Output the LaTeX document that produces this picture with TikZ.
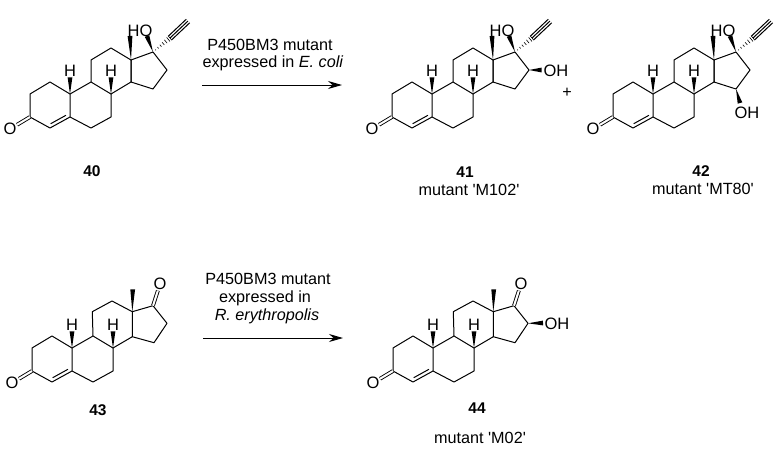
\documentclass[tikz,border=0pt]{standalone}
\usepackage{fontspec}
\setmainfont{Liberation Sans}
\usetikzlibrary{calc, positioning, arrows.meta}
\tikzset{
		>=Stealth,
		bond/.style={line width=1pt, black},
		dbl/.style={line width=0.9pt, double, double distance=2pt, black},
		atom/.style={font=\fontsize{16.5}{16.5}\selectfont, inner sep=0.5pt},
		txt/.style={font=\fontsize{16.2}{16.2}\selectfont, inner sep=0pt},
		num/.style={font=\fontsize{15.5}{15.5}\selectfont\bfseries, inner sep=0pt}
	}
% narrow at the first point, wide at the second
\newcommand{\wedgebond}[2]{\fill ($(#2)!2.4pt!90:(#1)$) -- ($(#2)!2.4pt!-90:(#1)$) -- (#1) -- cycle;}
\tikzset{
	% rings A and B, with the two H
	abrings/.pic={
		\coordinate (-c1) at (50,82);
		\coordinate (-c2) at (30,94);
		\coordinate (-c3) at (30,117);
		\coordinate (-c4) at (50,128);
		\coordinate (-c5) at (70,117);
		\coordinate (-c6) at (91,128);
		\coordinate (-c7) at (111,117);
		\coordinate (-c8) at (111,94);
		\coordinate (-c9) at (91,82);
		\coordinate (-c10) at (70,94);
		\node[atom] (-o3) at (10,129) {O};
		\node[atom] (-h8) at (111,71) {H};
		\node[atom] (-h10) at (70,71) {H};
		\draw[bond, line join=round] (-c10) -- (-c1) -- (-c2) -- (-c3) -- (-c4) -- (-c5) -- (-c6) -- (-c7) -- (-c8) -- (-c9) -- (-c10) -- (-c5);
		\draw[bond] ($(-c4) + (0.7,-4.3)$) -- ($(-c5) + (-4.1,-1.7)$);
		\draw[dbl] (-c3) -- (-o3);
		\wedgebond{-c8}{-h8.south}
		\wedgebond{-c10}{-h10.south}
	},
	% rings C and D, 17-OH and ethynyl
	ethynyl/.pic={
		\coordinate (-c11) at (91,60);
		\coordinate (-c12) at (111,48);
		\coordinate (-c13) at (131,60);
		\coordinate (-c14) at (131,82);
		\coordinate (-c15) at (153,89);
		\coordinate (-c16) at (167,70);
		\coordinate (-c17) at (153,52);
		\coordinate (-c18) at (130,36);
		\coordinate (-oh) at (147,36);
		\coordinate (-c20) at (170,38);
		\coordinate (-c21) at (188,21);
		\coordinate (-c8) at (111,94);
		\coordinate (-c9) at (91,82);
		\node[atom] (-ho) at (140,31) {HO};
		\draw[bond, line join=round] (-c9) -- (-c11) -- (-c12) -- (-c13) -- (-c14) -- (-c8);
		\draw[bond, line join=round] (-c14) -- (-c15) -- (-c16) -- (-c17) -- (-c13) -- (-c14);
		\wedgebond{-c13}{-c18}
		\wedgebond{-c17}{-oh}
		\foreach \t in {0.15,0.3,0.45,0.6,0.75,0.9,1}
			\draw[line width=0.6pt] ($(-c17)!\t!(-c20) + \t*(1.8,2.2)$) -- ($(-c17)!\t!(-c20) - \t*(1.8,2.2)$);
		\draw[bond] (-c20) -- (-c21);
		\draw[bond] ($(-c20) + (1.7,1.8)$) -- ($(-c21) + (1.7,1.8)$);
		\draw[bond] ($(-c20) - (1.7,1.8)$) -- ($(-c21) - (1.7,1.8)$);
	},
	% rings C and D, 17-ketone
	ketone/.pic={
		\coordinate (-c11) at (90.3,57.7);
		\coordinate (-c12) at (110,47);
		\coordinate (-c13) at (130.3,57.7);
		\coordinate (-c14) at (130.3,82.7);
		\coordinate (-c15) at (152,88.7);
		\coordinate (-c16) at (165,69.3);
		\coordinate (-c17) at (151,51.7);
		\coordinate (-c18) at (130.7,35.3);
		\coordinate (-c8) at (111,94);
		\coordinate (-c9) at (91,82);
		\node[atom] (-o17) at (158,30) {O};
		\draw[bond, line join=round] (-c9) -- (-c11) -- (-c12) -- (-c13) -- (-c14) -- (-c8);
		\draw[bond, line join=round] (-c14) -- (-c15) -- (-c16) -- (-c17) -- (-c13);
		\draw[dbl] (-c17) -- (-o17);
		\wedgebond{-c13}{-c18}
	}
}

\begin{document}
\begin{tikzpicture}[x=1pt, y=-1pt]
		\useasboundingbox (0,0) rectangle (776,451);

		% top row
		\pic (m40a) at (0,0) {abrings};
		\pic (m40c) at (0,0) {ethynyl};
		\pic (m41a) at (362,0) {abrings};
		\pic (m41c) at (362,0) {ethynyl};
		\pic (m42a) at (583,0) {abrings};
		\pic (m42c) at (583,0) {ethynyl};

		% OH of 41 and 42
		\node[atom] (oh41) at (556,71) {OH};
		\coordinate (t41) at (541.5,70);
		\wedgebond{m41c-c16}{t41}
		\node[atom] (oh42) at (747,113) {OH};
		\coordinate (t42) at (740,103);
		\wedgebond{m42c-c15}{t42}

		% bottom row
		\pic (m43a) at (2,254) {abrings};
		\pic (m43c) at (2,254) {ketone};
		\pic (m44a) at (363,254) {abrings};
		\pic (m44c) at (363,254) {ketone};

		% OH of 44
		\node[atom] (oh44) at (557,324) {OH};
		\coordinate (t44) at (543,323);
		\wedgebond{m44c-c16}{t44}

		% arrows
		\coordinate (a1s) at (202,85);
		\coordinate (a1e) at (342,85);
		\draw[line width=1pt, -{Stealth[length=14pt, width=8pt]}] (a1s) -- (a1e);
		\coordinate (a2s) at (203,338);
		\coordinate (a2e) at (343,338);
		\draw[line width=1pt, -{Stealth[length=14pt, width=8pt]}] (a2s) -- (a2e);

		\node[txt] (c1a) at (270,45) {P450BM3 mutant};
		\node[txt] (c1b) at (273,63) {expressed in \textit{E. coli}};
		\node[txt] (c2a) at (268,279) {P450BM3 mutant};
		\node[txt] (c2b) at (265,298) {expressed in};
		\node[txt] (c2c) at (267,316) {\textit{R. erythropolis}};

		\node[txt] (plus) at (567,93) {+};

		% labels
		\node[num] (l40) at (92,171) {40};
		\node[num] (l41) at (465,172) {41};
		\node[txt] (n41) at (469,190) {mutant \textquotesingle M102\textquotesingle};
		\node[num] (l42) at (701,171) {42};
		\node[txt] (n42) at (703,189) {mutant \textquotesingle MT80\textquotesingle};
		\node[num] (l43) at (98,410) {43};
		\node[num] (l44) at (477,408) {44};
		\node[txt] (n44) at (480,438) {mutant \textquotesingle M02\textquotesingle};
	\end{tikzpicture}
\end{document}
